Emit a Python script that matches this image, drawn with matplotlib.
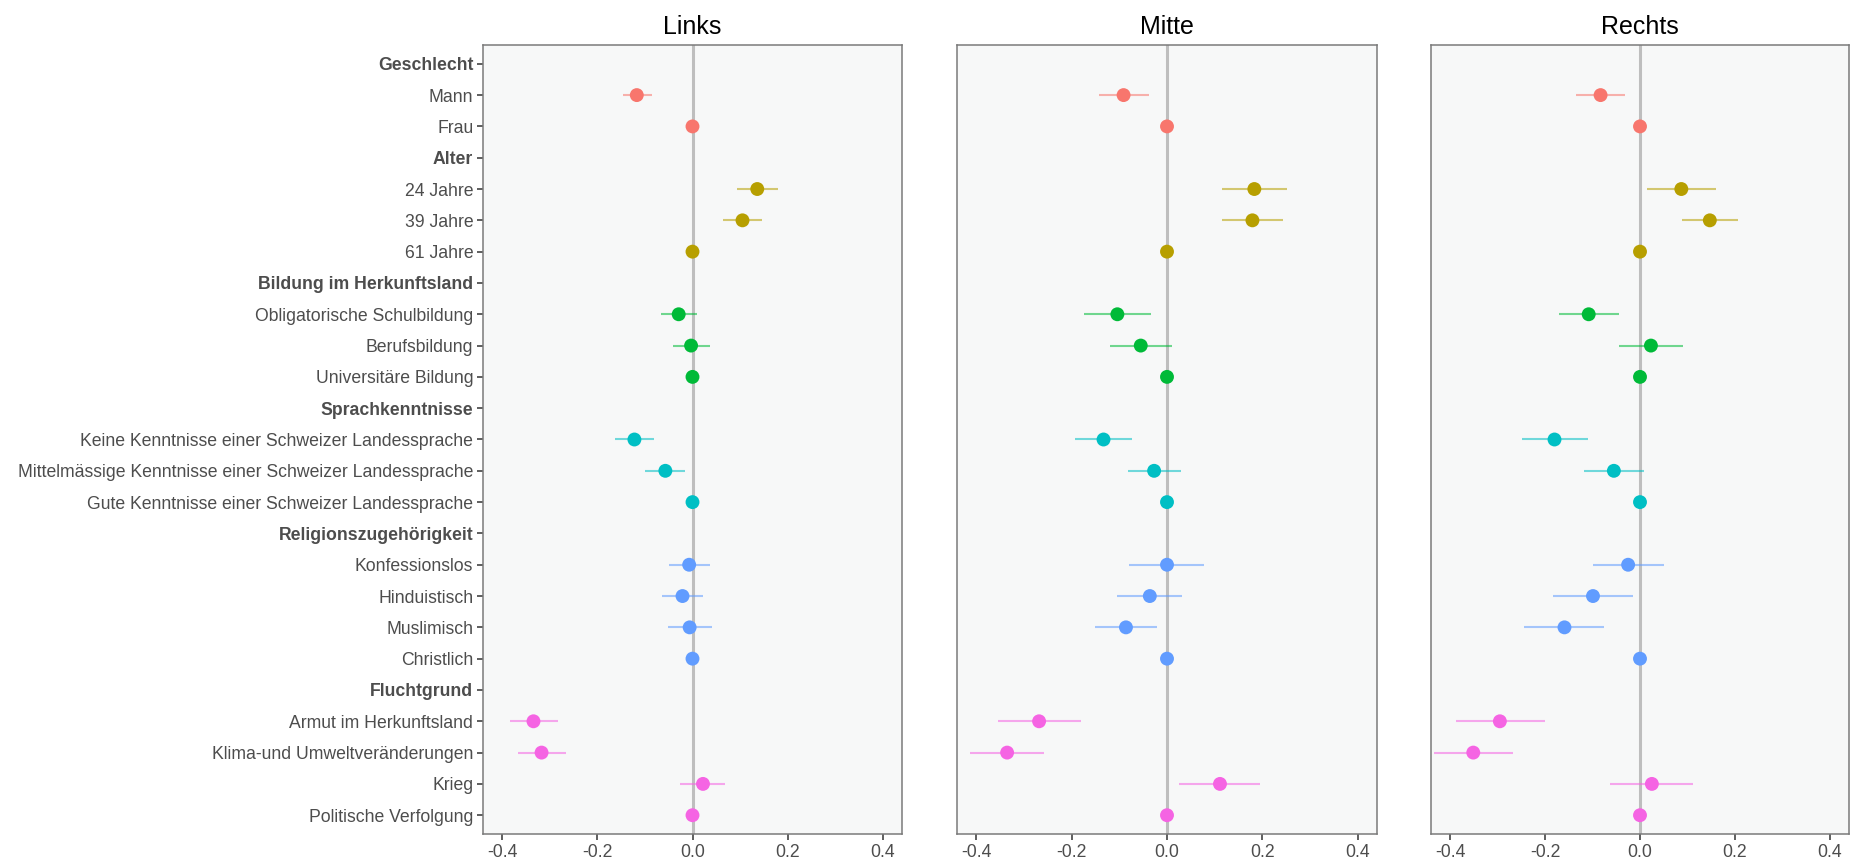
import numpy as np
import matplotlib
matplotlib.use("Agg")
import matplotlib.pyplot as plt

plt.rcParams["font.family"] = ["Liberation Sans", "DejaVu Sans"]

# row labels, top to bottom; headers are drawn bold and carry no estimate
labels = [
    "Geschlecht", "Mann", "Frau",
    "Alter", "24 Jahre", "39 Jahre", "61 Jahre",
    "Bildung im Herkunftsland", "Obligatorische Schulbildung", "Berufsbildung", "Universitäre Bildung",
    "Sprachkenntnisse", "Keine Kenntnisse einer Schweizer Landessprache",
    "Mittelmässige Kenntnisse einer Schweizer Landessprache", "Gute Kenntnisse einer Schweizer Landessprache",
    "Religionszugehörigkeit", "Konfessionslos", "Hinduistisch", "Muslimisch", "Christlich",
    "Fluchtgrund", "Armut im Herkunftsland", "Klima-und Umweltveränderungen", "Krieg", "Politische Verfolgung",
]
headers = ["Geschlecht", "Alter", "Bildung im Herkunftsland", "Sprachkenntnisse",
           "Religionszugehörigkeit", "Fluchtgrund"]
# attribute group index per row (for colour)
groups = [0, 0, 0, 1, 1, 1, 1, 2, 2, 2, 2, 3, 3, 3, 3, 4, 4, 4, 4, 4, 5, 5, 5, 5, 5]
palette = ["#F8766D", "#B79F00", "#00BA38", "#00BFC4", "#619CFF", "#F564E3"]

panels = ["Links", "Mitte", "Rechts"]

# estimate, lower, upper per panel (None = header row)
N = None
links_est = [N, -0.117, 0, N, 0.136, 0.105, 0, N, -0.029, -0.003, 0, N, -0.122, -0.057, 0,
             N, -0.007, -0.021, -0.006, 0, N, -0.334, -0.317, 0.022, 0]
links_lo = [N, -0.147, 0, N, 0.094, 0.064, 0, N, -0.066, -0.040, 0, N, -0.162, -0.099, 0,
            N, -0.050, -0.064, -0.052, 0, N, -0.384, -0.367, -0.027, 0]
links_hi = [N, -0.085, 0, N, 0.179, 0.147, 0, N, 0.009, 0.036, 0, N, -0.081, -0.016, 0,
            N, 0.037, 0.022, 0.040, 0, N, -0.282, -0.266, 0.069, 0]

mitte_est = [N, -0.091, 0, N, 0.183, 0.179, 0, N, -0.104, -0.055, 0, N, -0.133, -0.027, 0,
             N, 0.000, -0.036, -0.086, 0, N, -0.268, -0.335, 0.111, 0]
mitte_lo = [N, -0.142, 0, N, 0.116, 0.115, 0, N, -0.173, -0.119, 0, N, -0.192, -0.082, 0,
            N, -0.079, -0.104, -0.151, 0, N, -0.355, -0.413, 0.026, 0]
mitte_hi = [N, -0.038, 0, N, 0.252, 0.243, 0, N, -0.034, 0.011, 0, N, -0.073, 0.029, 0,
            N, 0.078, 0.032, -0.020, 0, N, -0.181, -0.257, 0.194, 0]

rechts_est = [N, -0.083, 0, N, 0.087, 0.147, 0, N, -0.108, 0.023, 0, N, -0.180, -0.055, 0,
              N, -0.025, -0.099, -0.159, 0, N, -0.295, -0.351, 0.025, 0]
rechts_lo = [N, -0.134, 0, N, 0.014, 0.089, 0, N, -0.171, -0.044, 0, N, -0.249, -0.117, 0,
             N, -0.100, -0.183, -0.244, 0, N, -0.388, -0.434, -0.064, 0]
rechts_hi = [N, -0.031, 0, N, 0.159, 0.206, 0, N, -0.044, 0.091, 0, N, -0.110, 0.008, 0,
             N, 0.050, -0.015, -0.075, 0, N, -0.201, -0.268, 0.112, 0]

estimates = [links_est, mitte_est, rechts_est]
lowers = [links_lo, mitte_lo, rechts_lo]
uppers = [links_hi, mitte_hi, rechts_hi]

W, H = 18.5, 8.65
fig = plt.figure(figsize=(W, H), dpi=100)

# panel boxes in pixels: left, right
panel_px = [(483, 902), (957, 1377), (1431, 1849)]
top_px, bottom_px = 45, 834

n = len(labels)
ypos = np.arange(n)[::-1] + 1  # first label at top

for k, name in enumerate(panels):
    l, r = panel_px[k]
    ax = fig.add_axes([l / 1850, 1 - bottom_px / 865, (r - l) / 1850, (bottom_px - top_px) / 865])
    ax.set_facecolor("#F7F8F8")
    ax.axvline(0, color="#BEBEBE", lw=2.2, zorder=1)

    for i in range(n):
        est = estimates[k][i]
        if est is None:
            continue
        c = palette[groups[i]]
        lo, hi = lowers[k][i], uppers[k][i]
        if hi - lo > 0:
            ax.plot([lo, hi], [ypos[i], ypos[i]], color=c, alpha=0.55, lw=1.5, zorder=2,
                    solid_capstyle="butt")
        ax.scatter(est, ypos[i], s=100, color=c, edgecolors="none", zorder=3)

    ax.set_xlim(-0.44, 0.44)
    ax.set_ylim(0.4, n + 0.6)
    ax.set_xticks([-0.4, -0.2, 0.0, 0.2, 0.4])
    ax.set_xticklabels(["-0.4", "-0.2", "0.0", "0.2", "0.4"])
    ax.tick_params(axis="x", length=4, width=1.1, color="#333333", labelsize=12.7,
                   labelcolor="#4D4D4D", pad=3)
    for sp in ax.spines.values():
        sp.set_color("#7A7A7A")
        sp.set_linewidth(1.1)
    ax.set_title(name, fontsize=18, color="black", pad=8)

    if k == 0:
        ax.set_yticks(ypos)
        ax.set_yticklabels(labels)
        ax.tick_params(axis="y", length=4, width=1.1, color="#333333", labelsize=12.7,
                       labelcolor="#4D4D4D", pad=3)
        for t in ax.get_yticklabels():
            if t.get_text() in headers:
                t.set_fontweight("bold")
    else:
        ax.set_yticks([])

fig.savefig("out.png", dpi=100)
